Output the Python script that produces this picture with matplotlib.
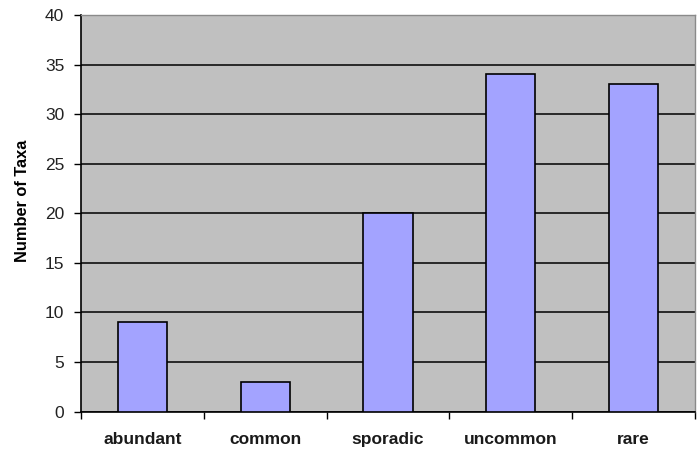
import numpy as np
import matplotlib.pyplot as plt
from matplotlib.ticker import FixedLocator

# Nombre de taxons par classe de frequence
categories = ["abundant", "common", "sporadic", "uncommon", "rare"]
taxa = [9, 3, 20, 34, 33]
y_ticks = [0, 5, 10, 15, 20, 25, 30, 35, 40]

plt.rcParams['font.family'] = ['Liberation Sans', 'DejaVu Sans']

fig = plt.figure(figsize=(6.99, 4.49), dpi=100)
ax = fig.add_axes([0.1159, 0.0835, 0.8784, 0.8831])
ax.set_facecolor("#C0C0C0")

x = np.arange(len(categories))
ax.bar(x, taxa, width=0.4, color="#A3A3FF", edgecolor="black", linewidth=1.2, zorder=3)

ax.set_xlim(-0.5, len(categories) - 0.5)
ax.set_ylim(0, 40)
ax.set_yticks(y_ticks)
ax.yaxis.grid(True, color="black", linewidth=1.1, zorder=1)
ax.set_axisbelow(True)

# etiquettes au centre, petites marques aux limites des categories
ax.set_xticks(x)
ax.set_xticklabels(categories, fontsize=12.5, fontweight="bold", color="#1a1a1a")
ax.xaxis.set_minor_locator(FixedLocator(np.arange(-0.5, len(categories), 1.0)))
ax.tick_params(axis="x", which="major", length=0, pad=15)
ax.tick_params(axis="x", which="minor", length=5, width=1, direction="out")
ax.tick_params(axis="y", length=5, width=1, direction="out", pad=7,
               labelsize=12.5, labelcolor="#222222")

for side in ("top", "right"):
    ax.spines[side].set_color("#8a8a8a")
    ax.spines[side].set_linewidth(1)
for side in ("left", "bottom"):
    ax.spines[side].set_color("black")
    ax.spines[side].set_linewidth(1.2)

ax.set_ylabel("Number of Taxa", fontsize=11.8, fontweight="bold")
ax.yaxis.set_label_coords(-0.0835, 0.531)

fig.savefig("out.png", dpi=100)
